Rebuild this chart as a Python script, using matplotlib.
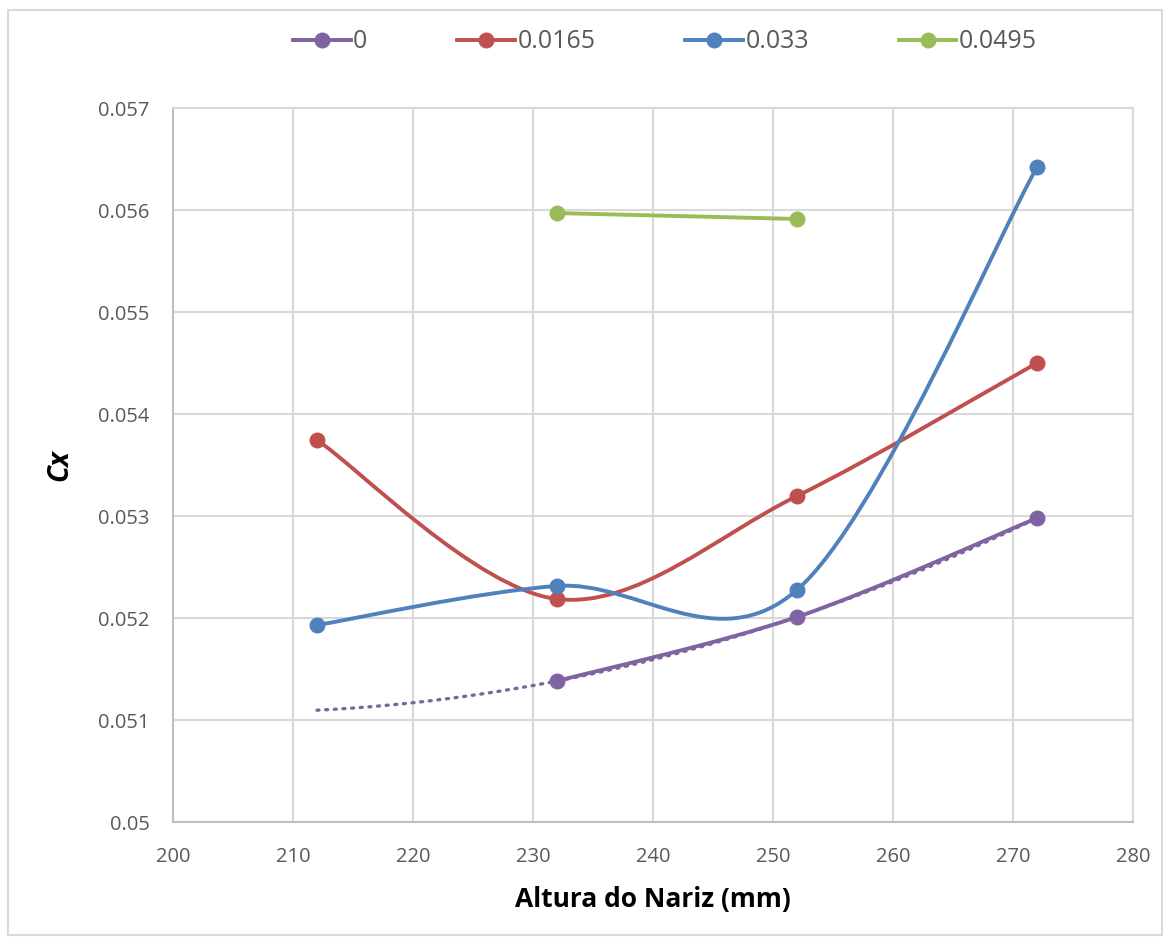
import numpy as np
import matplotlib
matplotlib.use("Agg")
import matplotlib.pyplot as plt
from matplotlib.path import Path
from matplotlib.patches import PathPatch, Rectangle
from matplotlib.lines import Line2D

plt.rcParams['font.family'] = ['Open Sans', 'DejaVu Sans']

# dados
x_0 = [232, 252, 272]
cx_0 = [0.051382, 0.052010, 0.052980]
x_0165 = [212, 232, 252, 272]
cx_0165 = [0.053745, 0.052186, 0.053196, 0.054500]
x_033 = [212, 232, 252, 272]
cx_033 = [0.051931, 0.052314, 0.052275, 0.056420]
x_0495 = [232, 252]
cx_0495 = [0.055970, 0.055912]
rotulos = ['0', '0.0165', '0.033', '0.0495']
cores = ['#8064A2', '#C0504D', '#4F81BD', '#9BBB59']
trend_x = [212, 272]


def curva_suave(xs, ys):
    # curva suavizada tipo Excel (bezier com tangentes catmull-rom)
    p = np.column_stack([xs, ys]).astype(float)
    n = len(p)
    verts = [p[0]]
    codes = [Path.MOVETO]
    for i in range(n - 1):
        p0 = p[i - 1] if i > 0 else p[i]
        p3 = p[i + 2] if i + 2 < n else p[i + 1]
        c1 = p[i] + (p[i + 1] - p0) / 6.0
        c2 = p[i + 1] - (p3 - p[i]) / 6.0
        verts += [c1, c2, p[i + 1]]
        codes += [Path.CURVE4] * 3
    return Path(verts, codes)


fig = plt.figure(figsize=(11.7, 9.4), dpi=100)
fig.patches.append(Rectangle((8 / 1170, 5 / 940), 1154 / 1170, 925 / 940,
                             transform=fig.transFigure, fill=False,
                             edgecolor='#d9d9d9', linewidth=1.5))
ax = fig.add_axes([173 / 1170, 118 / 940, 960 / 1170, 714 / 940])

series = [(x_0, cx_0), (x_0165, cx_0165), (x_033, cx_033), (x_0495, cx_0495)]
handles = []
for (xs, ys), cor, rot in zip(series, cores, rotulos):
    if len(xs) > 2:
        ax.add_patch(PathPatch(curva_suave(xs, ys), fill=False, edgecolor=cor,
                               linewidth=2.8, zorder=3))
    else:
        ax.plot(xs, ys, color=cor, linewidth=2.8, zorder=3)
    ax.plot(xs, ys, 'o', color=cor, markersize=10.5, zorder=4)
    handles.append(Line2D([], [], color=cor, linewidth=2.8, marker='o',
                          markersize=10.5, label=rot))

# linha de tendencia polinomial da serie 0
coef = np.polyfit(x_0, cx_0, 2)
xt = np.linspace(trend_x[0], trend_x[1], 200)
ax.plot(xt, np.polyval(coef, xt), color=cores[0], linewidth=2.4,
        linestyle=(0, (0.6, 2.0)), dash_capstyle='round', zorder=2)

ax.set_xlim(200, 280)
ax.set_ylim(0.05, 0.057)
ax.set_xticks(np.arange(200, 281, 10))
ax.set_yticks(np.arange(0.05, 0.0571, 0.001))
ax.set_yticklabels(['0.05', '0.051', '0.052', '0.053', '0.054', '0.055', '0.056', '0.057'])
ax.grid(True, color='#d9d9d9', linewidth=1.5, zorder=0)
ax.set_axisbelow(True)
ax.tick_params(length=0, labelsize=14.5, labelcolor='#595959')
ax.tick_params(axis='y', pad=17)
ax.tick_params(axis='x', pad=18)
for s in ['top', 'right']:
    ax.spines[s].set_color('#d9d9d9')
    ax.spines[s].set_linewidth(1.5)
for s in ['left', 'bottom']:
    ax.spines[s].set_color('#bfbfbf')
    ax.spines[s].set_linewidth(1.5)

ax.set_xlabel('Altura do Nariz (mm)', fontsize=19, fontweight='bold', labelpad=14)
ax.set_ylabel('Cx', fontsize=20, fontweight='bold', style='italic', labelpad=17)

fig.legend(handles=handles, loc='center', bbox_to_anchor=(665 / 1170, 1 - 42 / 940),
           ncol=4, frameon=False, fontsize=18, handlelength=2.3,
           handletextpad=0.1, columnspacing=3.6, labelcolor='#595959')

fig.savefig('out.png', dpi=100)
